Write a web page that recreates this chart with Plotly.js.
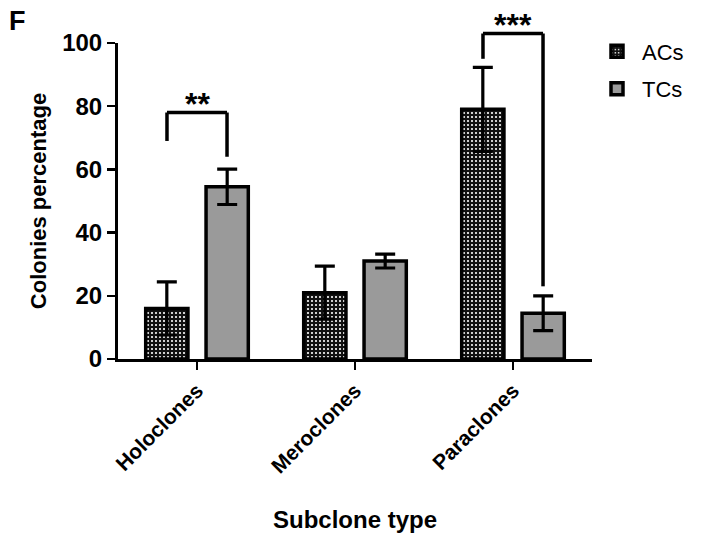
<!DOCTYPE html>
<html>
<head>
<meta charset="utf-8">
<script src="https://cdn.plot.ly/plotly-3.0.1.min.js"></script>
<style>html,body{margin:0;padding:0;background:#fff;}#chart{width:720px;height:540px;}</style>
</head>
<body>
<div id="chart"></div>
<script>
const categories = ['Holoclones', 'Meroclones', 'Paraclones'];
const acsValues = [16, 21, 79];
const acsErrors = [8.4, 8.4, 13.3];
const tcsValues = [54.5, 31, 14.5];
const tcsErrors = [5.6, 2.2, 5.5];
const yTicks = [0, 20, 40, 60, 80, 100];
// significance brackets: category index, left leg bottom, top, right leg bottom, label
const sigCategory = [0, 2];
const sigLeftBottom = [69, 95];
const sigTop = [78, 103];
const sigRightBottom = [64, 23];
const sigLabels = ['**', '***'];

const FONT = 'Liberation Sans, Arial, sans-serif';
const off = 0.19;

const traces = [
  {
    type: 'bar', name: 'ACs', x: categories, y: acsValues, legendgroup: 'a',
    marker: {color: '#111', line: {color: '#000', width: 3.5},
      pattern: {shape: '.', fgcolor: '#ffffff', bgcolor: '#111111', size: 4, solidity: 0.22}},
    error_y: {type: 'data', array: acsErrors, visible: true, color: '#000', thickness: 3.2, width: 10}
  },
  {
    type: 'bar', name: 'TCs', x: categories, y: tcsValues, legendgroup: 'b',
    marker: {color: '#9a9a9a', line: {color: '#000', width: 3.5}},
    error_y: {type: 'data', array: tcsErrors, visible: true, color: '#000', thickness: 3.2, width: 10}
  }
];

const shapes = [];
const annotations = [];
sigCategory.forEach((c, i) => {
  const line = {color: '#000', width: 3.5};
  shapes.push({type: 'line', xref: 'x', yref: 'paper', x0: c - off, x1: c - off, y0: sigLeftBottom[i] / 100, y1: sigTop[i] / 100, line});
  shapes.push({type: 'line', xref: 'x', yref: 'paper', x0: c - off, x1: c + off, y0: sigTop[i] / 100, y1: sigTop[i] / 100, line});
  shapes.push({type: 'line', xref: 'x', yref: 'paper', x0: c + off, x1: c + off, y0: sigTop[i] / 100, y1: sigRightBottom[i] / 100, line});
  annotations.push({xref: 'x', yref: 'paper', x: c, y: sigTop[i] / 100 + 0.026, yanchor: 'middle', showarrow: false,
    text: '<b>' + sigLabels[i] + '</b>', font: {family: FONT, size: 32, color: '#000'}});
});
annotations.push({xref: 'paper', yref: 'paper', x: -0.235, y: 1.125, xanchor: 'left', yanchor: 'top', showarrow: false,
  text: '<b>F</b>', font: {family: FONT, size: 27, color: '#000'}});

const layout = {
  width: 720, height: 540,
  margin: {l: 118, r: 128, t: 43, b: 181},
  paper_bgcolor: '#fff', plot_bgcolor: '#fff',
  font: {family: FONT, color: '#000', weight: 'bold'},
  barmode: 'group', bargap: 0.236, bargroupgap: 0.3,
  showlegend: true,
  legend: {x: 1.0, y: 1.04, xanchor: 'left', yanchor: 'top', font: {family: FONT, size: 22, color: '#000', weight: 'normal'},
    itemwidth: 40, tracegroupgap: 6, bgcolor: 'rgba(0,0,0,0)'},
  xaxis: {
    type: 'category', showline: true, linecolor: '#000', linewidth: 3, showgrid: false, zeroline: false,
    ticks: 'outside', ticklen: 8, tickwidth: 2.5, tickcolor: '#000', tickangle: -45,
    tickfont: {family: FONT, size: 21, color: '#000', weight: 'bold'},
    title: {text: '<b>Subclone type</b>', font: {family: FONT, size: 24, color: '#000'}, standoff: 35}
  },
  yaxis: {
    range: [0, 100], tickvals: yTicks, showline: true, linecolor: '#000', linewidth: 3, showgrid: false, zeroline: false,
    ticks: 'outside', ticklen: 8, tickwidth: 2.5, tickcolor: '#000',
    tickfont: {family: FONT, size: 24, color: '#000', weight: 'bold'},
    title: {text: '<b>Colonies percentage</b>', font: {family: FONT, size: 22, color: '#000'}, standoff: 10}
  },
  shapes, annotations
};

Plotly.newPlot('chart', traces, layout, {staticPlot: true});
</script>
</body>
</html>
